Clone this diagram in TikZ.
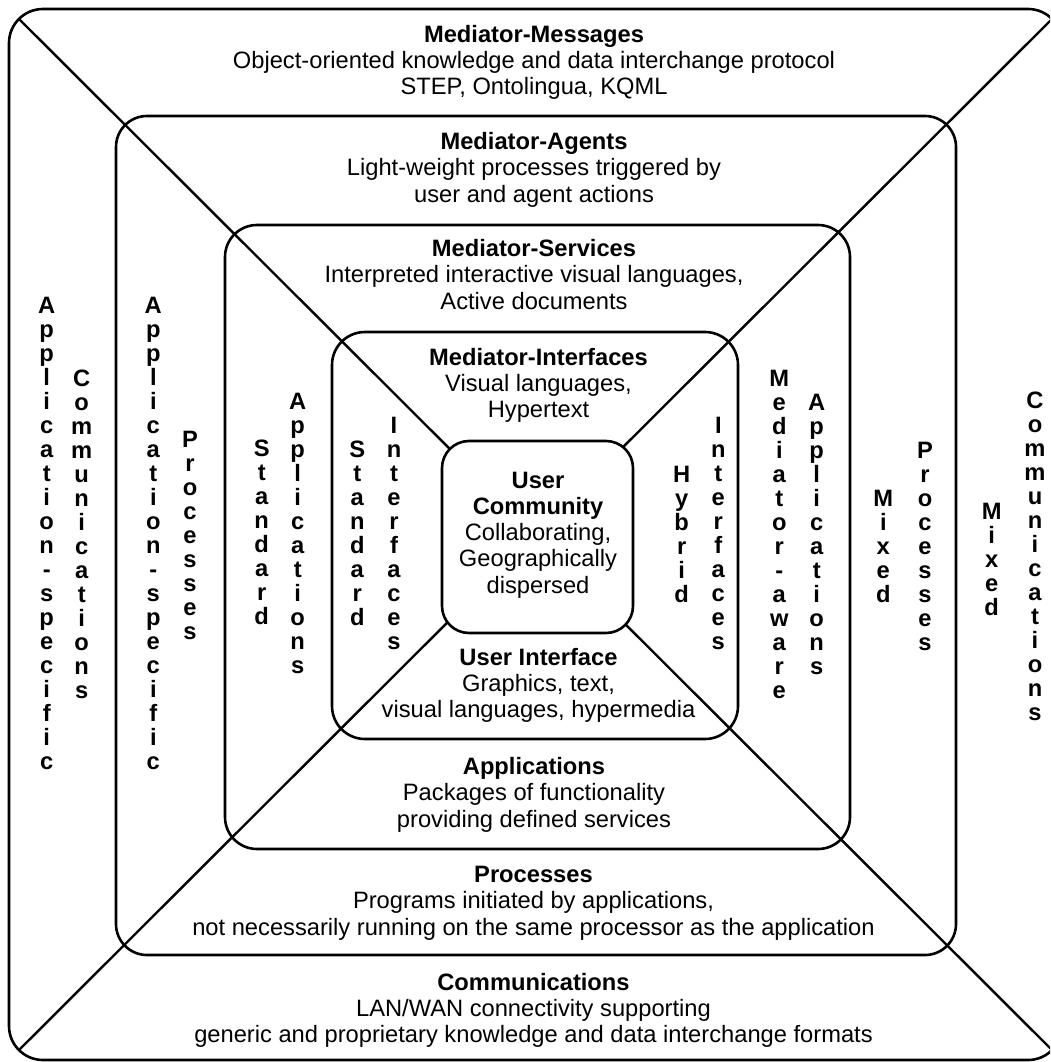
\documentclass[tikz,border=0pt]{standalone}
\usepackage{fontspec}
\setmainfont{Liberation Sans}

% bold heading line with a fixed-height strut so block tops line up
\newcommand\hd[1]{\rule{0pt}{18.5pt}\textbf{#1}}
% one word written top to bottom, one letter per line
\newcommand\stackword[4]{%
  \foreach \ch [count=\k from 0] in {#4}
    \node[vletter] (#1-\k) at (#2,{#3+24*\k}) {\ch};
}

\begin{document}
\begin{tikzpicture}[x=1pt,y=-1pt,
  ring/.style={draw, line width=2.6pt, rounded corners=#1, inner sep=0pt, outer sep=0pt},
  diag/.style={line width=2.4pt, shorten <=14.1pt, shorten >=14.1pt},
  block/.style={anchor=north, inner sep=0pt, align=center,
                font=\fontsize{23.7pt}{26.2pt}\selectfont},
  vletter/.style={anchor=base, inner sep=0pt,
                  font=\bfseries\fontsize{23.7pt}{24pt}\selectfont}]

\useasboundingbox (0,0) rectangle (1050,1062);
\clip (0,0) rectangle (1050,1062);

% nested layers
\node[ring=34pt, minimum width=1053pt, minimum height=1051pt] (outer)  at (535.5,534.5) {};
\node[ring=31pt, minimum width=840pt,  minimum height=839pt]  (agents) at (536,535.5) {};
\node[ring=32pt, minimum width=625pt,  minimum height=624pt]  (serv)   at (537.5,537) {};
\node[ring=33pt, minimum width=406pt,  minimum height=407pt]  (intf)   at (535,535.5) {};

% the two diagonals splitting the layers into quadrants
\draw[diag] (outer.north west) -- (outer.south east);
\draw[diag] (outer.south west) -- (outer.north east);

% central community box covers the crossing
\node[ring=27pt, fill=white, minimum width=191pt, minimum height=192pt] (core) at (537.5,537) {};

% layer descriptions
\node[block] (tmsg) at (534,23.5)
  {\hd{Mediator-Messages}\\Object-oriented knowledge and data interchange protocol\\STEP, Ontolingua, KQML};
\node[block] (tagent) at (534,131)
  {\hd{Mediator-Agents}\\Light-weight processes triggered by\\user and agent actions};
\node[block] (tserv) at (534,238)
  {\hd{Mediator-Services}\\Interpreted interactive visual languages,\\Active documents};
\node[block] (tintf) at (538.5,346.5)
  {\hd{Mediator-Interfaces}\\Visual languages,\\Hypertext};
\node[block] (tuser) at (538,469.5)
  {\hd{User}\\\textbf{Community}\\Collaborating,\\Geographically\\dispersed};
\node[block] (tui) at (538.5,646.5)
  {\hd{User Interface}\\Graphics, text,\\visual languages, hypermedia};
\node[block] (tapp) at (534,756)
  {\hd{Applications}\\Packages of functionality\\providing defined services};
\node[block] (tproc) at (533.5,864)
  {\hd{Processes}\\Programs initiated by applications,\\not necessarily running on the same processor as the application};
\node[block] (tcomm) at (533.5,971.5)
  {\hd{Communications}\\LAN/WAN connectivity supporting\\generic and proprietary knowledge and data interchange formats};

% left side labels
\stackword{aspecA}{46.7}{313}{A,p,p,l,i,c,a,t,i,o,n,-,s,p,e,c,i,f,i,c}
\stackword{commL}{81.7}{386}{C,o,m,m,u,n,i,c,a,t,i,o,n,s}
\stackword{aspecB}{153.3}{313}{A,p,p,l,i,c,a,t,i,o,n,-,s,p,e,c,i,f,i,c}
\stackword{procL}{190}{447}{P,r,o,c,e,s,s,e,s}
\stackword{stdA}{261.7}{456}{S,t,a,n,d,a,r,d}
\stackword{appsL}{297.7}{409}{A,p,p,l,i,c,a,t,i,o,n,s}
\stackword{stdB}{357.3}{457}{S,t,a,n,d,a,r,d}
\stackword{intfL}{394}{433}{I,n,t,e,r,f,a,c,e,s}

% right side labels
\stackword{hyb}{681.7}{482}{H,y,b,r,i,d}
\stackword{intfR}{718.3}{433}{I,n,t,e,r,f,a,c,e,s}
\stackword{medaw}{779.3}{386}{M,e,d,i,a,t,o,r,-,a,w,a,r,e}
\stackword{appsR}{816.7}{410}{A,p,p,l,i,c,a,t,i,o,n,s}
\stackword{mixA}{883.3}{506}{M,i,x,e,d}
\stackword{procR}{925}{458}{P,r,o,c,e,s,s,e,s}
\stackword{mixB}{991.7}{519}{M,i,x,e,d}
\stackword{commR}{1035}{408}{C,o,m,m,u,n,i,c,a,t,i,o,n,s}

\end{tikzpicture}
\end{document}
